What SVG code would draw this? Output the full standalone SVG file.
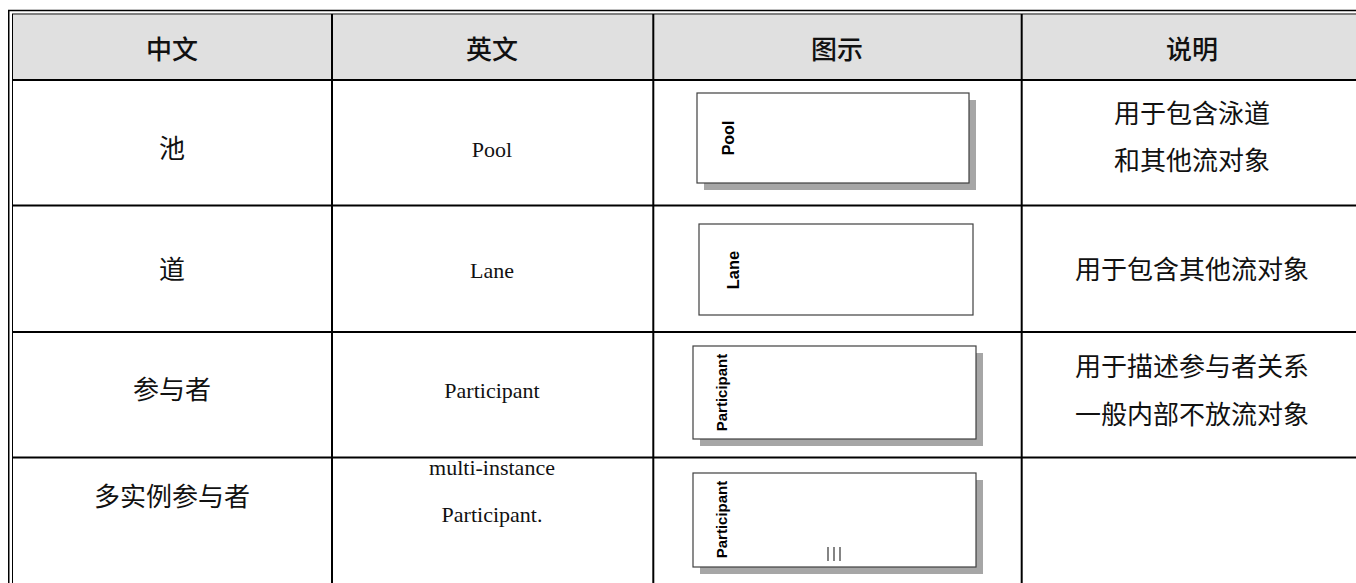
<svg xmlns="http://www.w3.org/2000/svg" width="1356" height="583" viewBox="0 0 1356 583">
<style>
.grid{stroke:#000;stroke-width:2;fill:none}
.cn{font-family:"Liberation Serif","Noto Sans CJK SC",serif;font-size:26px;fill:#111;text-anchor:middle;dominant-baseline:central}
.hd{font-family:"Noto Sans CJK SC",sans-serif;font-size:26px;font-weight:500;fill:#111;text-anchor:middle;dominant-baseline:central}
.en{font-family:"Liberation Serif",serif;font-size:22px;fill:#111;text-anchor:middle;dominant-baseline:central}
.ic{font-family:"Liberation Sans",Arial,sans-serif;font-weight:bold;fill:#000;text-anchor:middle;dominant-baseline:central}
.box{fill:#fff;stroke:#404040;stroke-width:1.2}
.sh{fill:#a6a6a6}
</style>
<rect width="1356" height="583" fill="#fff"/>
<g id="table">
<rect x="13" y="15" width="1343" height="64" fill="#e0e0e0"/>
<line x1="8" y1="10.5" x2="1356" y2="10.5" stroke="#000" stroke-width="1.5"/>
<line x1="12" y1="14" x2="1356" y2="14" stroke="#000" stroke-width="1"/>
<line x1="8.75" y1="10" x2="8.75" y2="583" stroke="#000" stroke-width="1.5"/>
<line x1="12.5" y1="14" x2="12.5" y2="583" stroke="#000" stroke-width="1"/>
<line class="grid" x1="13" y1="80" x2="1356" y2="80"/>
<line class="grid" x1="13" y1="205.5" x2="1356" y2="205.5"/>
<line class="grid" x1="13" y1="332" x2="1356" y2="332"/>
<line class="grid" x1="13" y1="457.5" x2="1356" y2="457.5"/>
<line class="grid" x1="332" y1="14" x2="332" y2="583"/>
<line class="grid" x1="653.3" y1="14" x2="653.3" y2="583"/>
<line class="grid" x1="1021.7" y1="14" x2="1021.7" y2="583"/>
</g>
<g id="header">
<text class="hd" x="172" y="47">中文</text>
<text class="hd" x="492" y="47">英文</text>
<text class="hd" x="837" y="47">图示</text>
<text class="hd" x="1192" y="47">说明</text>
</g>
<g id="row-pool">
<text class="cn" x="172" y="149">池</text>
<text class="en" x="492" y="149">Pool</text>
<rect class="sh" x="704" y="100" width="272" height="90"/>
<rect class="box" x="697" y="93" width="272" height="90"/>
<text class="ic" font-size="16" transform="translate(728,138) rotate(-90)">Pool</text>
<text class="cn" x="1192" y="114">用于包含泳道</text>
<text class="cn" x="1192" y="161">和其他流对象</text>
</g>
<g id="row-lane">
<text class="cn" x="172" y="270">道</text>
<text class="en" x="492" y="270">Lane</text>
<rect class="box" x="699" y="224" width="274" height="91"/>
<text class="ic" font-size="16.5" transform="translate(733,270) rotate(-90)">Lane</text>
<text class="cn" x="1192" y="270">用于包含其他流对象</text>
</g>
<g id="row-participant">
<text class="cn" x="172" y="390">参与者</text>
<text class="en" x="492" y="390">Participant</text>
<rect class="sh" x="700" y="353" width="283" height="93"/>
<rect class="box" x="693" y="346" width="283" height="93"/>
<text class="ic" font-size="15" transform="translate(721,392.5) rotate(-90)">Participant</text>
<text class="cn" x="1192" y="367">用于描述参与者关系</text>
<text class="cn" x="1192" y="415">一般内部不放流对象</text>
</g>
<g id="row-multi">
<text class="cn" x="172" y="497">多实例参与者</text>
<text class="en" x="492" y="467">multi-instance</text>
<text class="en" x="492" y="514">Participant.</text>
<rect class="sh" x="700" y="480" width="283" height="94"/>
<rect class="box" x="693" y="473" width="283" height="94"/>
<text class="ic" font-size="15" transform="translate(721,519.5) rotate(-90)">Participant</text>
<g stroke="#333" stroke-width="1.2">
<line x1="828" y1="547" x2="828" y2="561"/>
<line x1="834" y1="547" x2="834" y2="561"/>
<line x1="840" y1="547" x2="840" y2="561"/>
</g>
</g>
</svg>
